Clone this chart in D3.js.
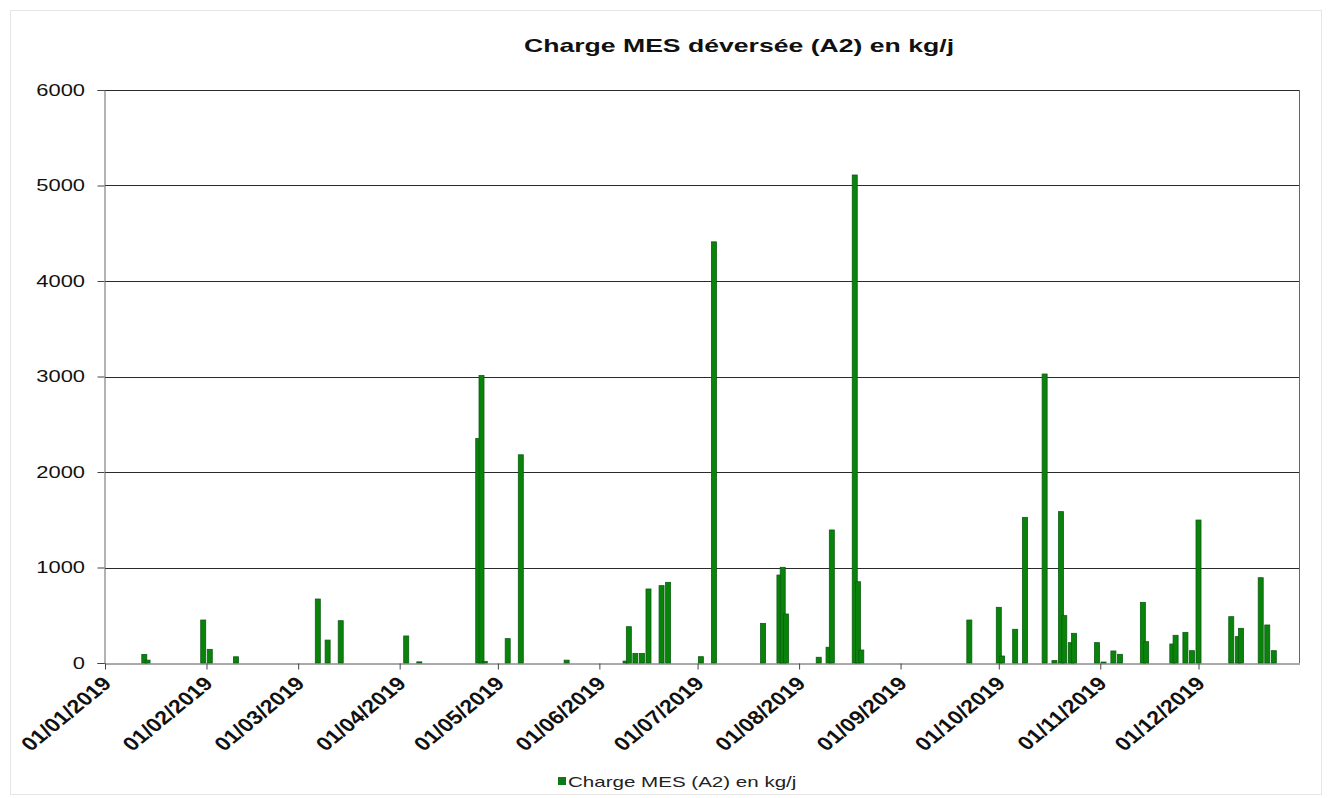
<!DOCTYPE html>
<html><head><meta charset="utf-8">
<script src="https://cdn.jsdelivr.net/npm/d3@7"></script>
<style>
html,body{margin:0;padding:0;background:#fff;}
text{font-family:"Liberation Sans",Arial,sans-serif;}
</style></head>
<body>
<svg id="chart" width="1330" height="798"></svg>
<script>
const title = "Charge MES déversée (A2) en kg/j";
const seriesName = "Charge MES (A2) en kg/j";
const dates = ["13/01/2019","14/01/2019","31/01/2019","02/02/2019","10/02/2019","07/03/2019","10/03/2019","14/03/2019",
"03/04/2019","07/04/2019","25/04/2019","26/04/2019","27/04/2019","04/05/2019","08/05/2019","22/05/2019",
"09/06/2019","10/06/2019","12/06/2019","14/06/2019","16/06/2019","20/06/2019","22/06/2019",
"02/07/2019","06/07/2019","21/07/2019","26/07/2019","27/07/2019","28/07/2019",
"07/08/2019","10/08/2019","11/08/2019","18/08/2019","19/08/2019","20/08/2019",
"22/09/2019","01/10/2019","02/10/2019","06/10/2019","09/10/2019","15/10/2019","18/10/2019","20/10/2019","21/10/2019","23/10/2019","24/10/2019",
"31/10/2019","02/11/2019","05/11/2019","07/11/2019","14/11/2019","15/11/2019","23/11/2019","24/11/2019","27/11/2019","29/11/2019",
"01/12/2019","11/12/2019","13/12/2019","14/12/2019","20/12/2019","22/12/2019","24/12/2019"];
const values = [90,30,450,143,65,670,240,443,
283,12,2350,3010,15,255,2180,30,
20,380,100,100,775,810,845,
66,4410,415,921,1002,513,
60,165,1393,5110,851,136,
450,583,73,353,1525,3026,25,1585,496,213,311,
213,10,126,91,635,223,199,290,321,129,
1497,485,276,363,893,398,129];
const xTickLabels = ["01/01/2019","01/02/2019","01/03/2019","01/04/2019","01/05/2019","01/06/2019",
"01/07/2019","01/08/2019","01/09/2019","01/10/2019","01/11/2019","01/12/2019"];
const yTicks = [0,1000,2000,3000,4000,5000,6000];

const parse = d3.timeParse("%d/%m/%Y");
const SX = 1.37;
const svg = d3.select("#chart");
const pL = 105, pR = 1300, pT = 90, pB = 663;

svg.append("rect").attr("x",10.5).attr("y",10.5).attr("width",1311).attr("height",784)
  .attr("fill","#fff").attr("stroke","#e6e6e6");

const x = d3.scaleTime().domain([parse("01/01/2019"), parse("01/01/2020")]).range([pL, pR]);
const y = d3.scaleLinear().domain([0, 6000]).range([pB, pT]);

// gridlines
svg.append("g").selectAll("line").data(yTicks.filter(v => v > 0)).join("line")
  .attr("x1", pL).attr("x2", pR)
  .attr("y1", d => Math.round(y(d)) + 0.5).attr("y2", d => Math.round(y(d)) + 0.5)
  .attr("stroke", "#2a2a2a").attr("stroke-width", 1);

// right border
svg.append("line").attr("x1", pR - 0.5).attr("x2", pR - 0.5).attr("y1", pT).attr("y2", pB)
  .attr("stroke", "#666");

// bars
const data = dates.map((d, i) => ({date: parse(d), value: values[i]}));
const bw = 5;
svg.append("g").selectAll("rect").data(data).join("rect")
  .attr("x", d => x(d.date) - bw / 2)
  .attr("width", bw)
  .attr("y", d => y(d.value))
  .attr("height", d => y(0) - y(d.value))
  .attr("fill", "#0a830a")
  .attr("stroke", "#0c5c14").attr("stroke-width", 0.8);

// y axis
const yAxis = svg.append("g").attr("transform", `translate(${pL - 0.5},0)`)
  .call(d3.axisLeft(y).tickValues(yTicks).tickSize(7).tickFormat(d3.format("d")));
yAxis.select(".domain").attr("stroke", "#666");
yAxis.selectAll(".tick line").attr("stroke", "#444");
yAxis.selectAll(".tick text").remove();
svg.append("g").selectAll("text").data(yTicks).join("text")
  .attr("transform", d => `translate(${pL - 20},${y(d)}) scale(${SX},1)`)
  .attr("text-anchor", "end").attr("dy", "0.36em")
  .attr("font-size", 16).attr("fill", "#111")
  .text(d => d);

// x axis
const xTicks = xTickLabels.map(parse);
const xAxis = svg.append("g").attr("transform", `translate(0,${pB + 0.5})`)
  .call(d3.axisBottom(x).tickValues(xTicks).tickSize(6).tickFormat(""));
xAxis.select(".domain").attr("stroke", "#555").attr("d", `M${pL},0.5H${pR}`);
xAxis.selectAll(".tick line").attr("stroke", "#444");
svg.append("g").selectAll("text").data(xTickLabels).join("text")
  .attr("transform", d => `translate(${x(parse(d)) + 2},${pB + 17}) scale(1.22,1) rotate(-45)`)
  .attr("text-anchor", "end").attr("dy", "0.35em")
  .attr("font-size", 19).attr("font-weight", "bold").attr("fill", "#111")
  .text(d => d);

// title
svg.append("text").attr("transform", `translate(739,52) scale(1.4,1)`)
  .attr("text-anchor", "middle").attr("font-size", 19).attr("font-weight", "bold").attr("fill", "#111")
  .text(title);

// legend
svg.append("rect").attr("x", 558).attr("y", 777).attr("width", 8).attr("height", 8).attr("fill", "#0a7a1a");
svg.append("text").attr("transform", `translate(568,787) scale(${SX},1)`)
  .attr("font-size", 15).attr("fill", "#222").text(seriesName);
</script>
</body></html>
